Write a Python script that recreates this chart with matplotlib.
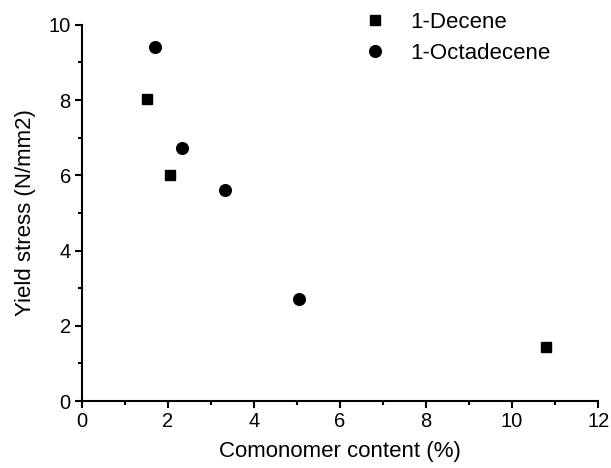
import matplotlib
matplotlib.use("Agg")
import matplotlib.pyplot as plt
from matplotlib.ticker import MultipleLocator

plt.rcParams['font.family'] = ['Liberation Sans', 'DejaVu Sans']

decene_x = [1.51, 2.04, 10.79]
decene_y = [8.02, 6.02, 1.45]
octa_x = [1.71, 2.33, 3.33, 5.05]
octa_y = [9.42, 6.72, 5.62, 2.70]

fig = plt.figure(figsize=(6.11, 4.68), dpi=100)
ax = fig.add_axes([0.134, 0.143, 0.845, 0.804])

ax.plot(decene_x, decene_y, 's', color='black', ms=7.2, label='1-Decene')
ax.plot(octa_x, octa_y, 'o', color='black', ms=8.4, label='1-Octadecene')

ax.set_xlim(0, 12)
ax.set_ylim(0, 10)
ax.xaxis.set_major_locator(MultipleLocator(2))
ax.xaxis.set_minor_locator(MultipleLocator(1))
ax.yaxis.set_major_locator(MultipleLocator(2))
ax.yaxis.set_minor_locator(MultipleLocator(1))
for s in ['top', 'right']:
    ax.spines[s].set_visible(False)
for s in ['left', 'bottom']:
    ax.spines[s].set_linewidth(1.5)
ax.tick_params(which='major', direction='out', length=5, width=1.5, labelsize=14.5, pad=3)
ax.tick_params(which='minor', direction='out', length=3, width=1.5)
ax.set_xlabel('Comonomer content (%)', fontsize=16, labelpad=7)
ax.set_ylabel('Yield stress (N/mm2)', fontsize=16, labelpad=9)

fig.legend(loc='upper left', bbox_to_anchor=(364/611, 1 - 12/468), frameon=False,
           fontsize=16, handlelength=1.0, handletextpad=1.1, borderpad=0,
           borderaxespad=0, labelspacing=0.45, numpoints=1)

fig.savefig('out.png', dpi=100)
